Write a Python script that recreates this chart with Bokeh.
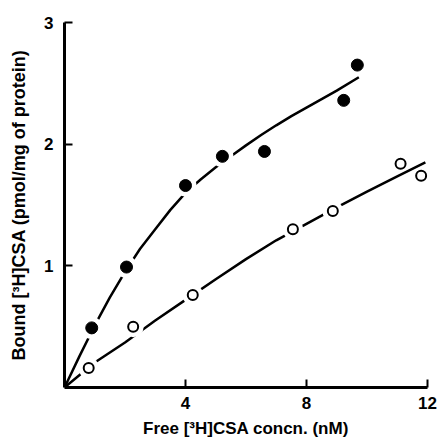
from bokeh.plotting import figure
from bokeh.models import Range1d, FixedTicker, Label
from bokeh.embed import file_html
from bokeh.resources import INLINE

# Filled circles (data points)
filled_x = [0.9, 2.05, 4.0, 5.22, 6.61, 9.23, 9.68]
filled_y = [0.49, 0.99, 1.66, 1.90, 1.94, 2.36, 2.65]
# Open circles (data points)
open_x = [0.80, 2.27, 4.24, 7.55, 8.87, 11.11, 11.79]
open_y = [0.16, 0.50, 0.76, 1.30, 1.45, 1.84, 1.74]

# Fitted curves
fcurve_x = [0, 0.5, 1, 1.5, 2, 2.5, 3, 3.5, 4, 4.5, 5, 5.5, 6, 6.5, 7, 7.5, 8, 8.5, 9, 9.73]
fcurve_y = [0, 0.26, 0.51, 0.74, 0.95, 1.14, 1.30, 1.46, 1.60, 1.71, 1.81, 1.90, 1.99, 2.075, 2.155, 2.23, 2.30, 2.37, 2.44, 2.55]
ocurve_x = [0, 1, 2, 3, 4, 5, 6, 7, 8, 9, 10, 11, 11.93]
ocurve_y = [0, 0.205, 0.37, 0.55, 0.72, 0.89, 1.055, 1.21, 1.345, 1.48, 1.61, 1.735, 1.85]

# which points sit on their curve (the curve is broken around them)
filled_on_curve = [0, 1, 2, 3]
open_on_curve = [0, 1, 2, 3, 4]

x_ticks = [4, 8, 12]
y_ticks = [1, 2, 3]

FONT = "Liberation Sans"

p = figure(width=438, height=442, output_backend="svg", toolbar_location=None,
           x_range=Range1d(0, 12), y_range=Range1d(0, 3),
           min_border_left=64, min_border_right=11, min_border_top=22, min_border_bottom=55)
p.outline_line_color = None
p.xgrid.visible = False
p.ygrid.visible = False
p.background_fill_color = "white"

for ax, ticks in ((p.xaxis[0], x_ticks), (p.yaxis[0], y_ticks)):
    ax.ticker = FixedTicker(ticks=ticks)
    ax.axis_line_width = 3
    ax.axis_line_color = "black"
    ax.major_tick_line_width = 2
    ax.major_tick_line_color = "black"
    ax.major_tick_out = 0
    ax.major_tick_in = 8
    ax.minor_tick_line_color = None
    ax.major_label_text_font = FONT
    ax.major_label_text_font_style = "bold"
    ax.major_label_text_font_size = "17px"
    ax.major_label_text_color = "black"
    ax.axis_label_text_font = FONT
    ax.axis_label_text_font_style = "bold"
    ax.axis_label_text_color = "black"

p.xaxis.axis_label = "Free [³H]CSA concn. (nM)"
p.yaxis.axis_label = "Bound [³H]CSA (pmol/mg of protein)"
p.xaxis.axis_label_text_font_size = "17px"
p.yaxis.axis_label_text_font_size = "18px"
p.xaxis.major_label_standoff = 9
p.yaxis.major_label_standoff = 11
p.xaxis.axis_label_standoff = 7
p.yaxis.axis_label_standoff = 12

p.line(fcurve_x, fcurve_y, line_color="black", line_width=2.5)
p.line(ocurve_x, ocurve_y, line_color="black", line_width=2.5)

# white halos breaking the curves at the points lying on them
p.scatter([filled_x[i] for i in filled_on_curve], [filled_y[i] for i in filled_on_curve],
          size=22, fill_color="white", line_color=None)
p.scatter([open_x[i] for i in open_on_curve], [open_y[i] for i in open_on_curve],
          size=21, fill_color="white", line_color=None)

p.scatter(filled_x, filled_y, size=12, fill_color="black", line_color="black")
p.scatter(open_x, open_y, size=10, fill_color="white", line_color="black", line_width=2)

p.add_layout(Label(x=0, y=0, text="0", x_offset=-14, y_offset=-17,
                   text_font=FONT, text_font_style="bold", text_font_size="17px",
                   text_align="center", text_baseline="middle", text_color="black"))

open("out.html", "w").write(file_html(p, INLINE))
